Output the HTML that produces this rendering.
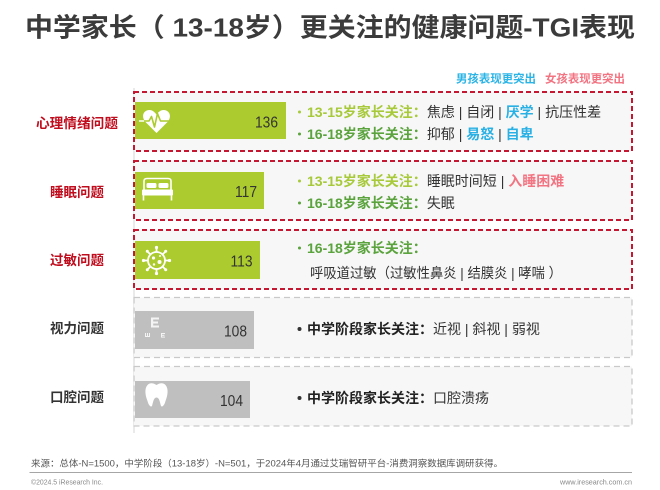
<!DOCTYPE html>
<html>
<head>
<meta charset="utf-8">
<style>
  html,body{margin:0;padding:0;background:#fff;}
  svg{display:block;}
  text{font-family:"Liberation Sans","Noto Sans CJK SC",sans-serif;}
</style>
</head>
<body>
<svg width="660" height="490" viewBox="0 0 660 490" xmlns="http://www.w3.org/2000/svg">
  <!-- Title -->
  <text x="25" y="36.5" font-size="26" font-weight="bold" fill="#3b3b3b" textLength="610" lengthAdjust="spacingAndGlyphs">中学家长（ 13-18岁）更关注的健康问题-TGI表现</text>

  <!-- Legend -->
  <text x="456" y="82.3" font-size="11.4" font-weight="bold" fill="#2cb4e6" textLength="80" lengthAdjust="spacingAndGlyphs">男孩表现更突出</text>
  <text x="545" y="82.3" font-size="11.4" font-weight="bold" fill="#f27482" textLength="80" lengthAdjust="spacingAndGlyphs">女孩表现更突出</text>

  <!-- axis line -->
  <line x1="134" y1="88" x2="134" y2="433" stroke="#d6d6d6" stroke-width="1"/>

  <!-- Boxes -->
  <g fill="#f7f7f7">
    <rect x="134" y="92" width="498" height="59" stroke="#c41732" stroke-width="2" stroke-dasharray="5 3"/>
    <rect x="134" y="161" width="498" height="59" stroke="#c41732" stroke-width="2" stroke-dasharray="5 3"/>
    <rect x="134" y="230" width="498" height="59" stroke="#c41732" stroke-width="2" stroke-dasharray="5 3"/>
    <rect x="134" y="297.5" width="498" height="60" stroke="#c9c9c9" stroke-width="1.3" stroke-dasharray="6 4"/>
    <rect x="134" y="366.5" width="498" height="59.5" stroke="#c9c9c9" stroke-width="1.3" stroke-dasharray="6 4"/>
  </g>

  <!-- Bars -->
  <rect x="135" y="102" width="151" height="37" fill="#abcb2e"/>
  <rect x="135" y="172" width="129" height="37" fill="#abcb2e"/>
  <rect x="135" y="241" width="125" height="38" fill="#abcb2e"/>
  <rect x="135" y="311" width="119" height="38" fill="#bfbfbf"/>
  <rect x="135" y="381" width="115" height="37" fill="#bfbfbf"/>

  <!-- Bar values -->
  <g font-size="16" fill="#333" text-anchor="end">
    <text x="278" y="127.5" textLength="23" lengthAdjust="spacingAndGlyphs">136</text>
    <text x="257" y="197" textLength="22" lengthAdjust="spacingAndGlyphs">117</text>
    <text x="252.5" y="266.5" textLength="22" lengthAdjust="spacingAndGlyphs">113</text>
    <text x="247" y="336.5" textLength="23" lengthAdjust="spacingAndGlyphs">108</text>
    <text x="243" y="406" textLength="23" lengthAdjust="spacingAndGlyphs">104</text>
  </g>

  <!-- Icon: heart -->
  <path d="M156.5,133 L145.5,122 C141,117 143,110 149.5,110 C152.5,110 154.5,112 156.5,114.5 C158.5,112 160.5,110 163.5,110 C170,110 172,117 167.5,122 Z" fill="#fff"/>
  <line x1="139" y1="121" x2="146" y2="121" stroke="#fff" stroke-width="1.5"/>
  <polyline points="144,121 149,121 151.5,116.5 154.5,127 157.5,113.5 160.5,121 170,121" fill="none" stroke="#abcb2e" stroke-width="1.6" stroke-linejoin="round"/>

  <!-- Icon: bed -->
  <path d="M144,190 L144,181 Q144,178.5 147,178.5 L168,178.5 Q171,178.5 171,181 L171,190" fill="none" stroke="#fff" stroke-width="1.6"/>
  <rect x="146.5" y="183" width="10" height="5" rx="1.5" fill="#fff"/>
  <rect x="158.5" y="183" width="10" height="5" rx="1.5" fill="#fff"/>
  <rect x="142" y="189.5" width="31" height="6" rx="1" fill="#fff"/>
  <line x1="143.5" y1="195" x2="143.5" y2="200.5" stroke="#fff" stroke-width="1.6"/>
  <line x1="171.5" y1="195" x2="171.5" y2="200.5" stroke="#fff" stroke-width="1.6"/>

  <!-- Icon: virus -->
  <g stroke="#fff" stroke-width="1.8" fill="none">
    <circle cx="156.5" cy="260.5" r="8.5"/>
    <line x1="156.5" y1="252" x2="156.5" y2="248"/>
    <line x1="156.5" y1="269" x2="156.5" y2="273"/>
    <line x1="148" y1="260.5" x2="144" y2="260.5"/>
    <line x1="165" y1="260.5" x2="169" y2="260.5"/>
    <line x1="150.5" y1="254.5" x2="147.7" y2="251.7"/>
    <line x1="162.5" y1="254.5" x2="165.3" y2="251.7"/>
    <line x1="150.5" y1="266.5" x2="147.7" y2="269.3"/>
    <line x1="162.5" y1="266.5" x2="165.3" y2="269.3"/>
  </g>
  <g fill="#fff">
    <circle cx="156.5" cy="247.5" r="1.6"/><circle cx="156.5" cy="273.5" r="1.6"/>
    <circle cx="143.5" cy="260.5" r="1.6"/><circle cx="169.5" cy="260.5" r="1.6"/>
    <circle cx="147.3" cy="251.3" r="1.5"/><circle cx="165.7" cy="251.3" r="1.5"/>
    <circle cx="147.3" cy="269.7" r="1.5"/><circle cx="165.7" cy="269.7" r="1.5"/>
    <circle cx="153.5" cy="258" r="1.6"/><circle cx="159.5" cy="262" r="2"/><circle cx="154" cy="264.5" r="1.2"/><circle cx="160" cy="256" r="1"/>
  </g>

  <!-- Icon: eye chart -->
  <g fill="#f4f4f4">
    <rect x="151" y="317.5" width="2.2" height="10"/>
    <rect x="151" y="317.5" width="8" height="2"/>
    <rect x="151" y="321.5" width="7" height="2"/>
    <rect x="151" y="325.5" width="8" height="2"/>
    <!-- small ш -->
    <rect x="145" y="333" width="1" height="4"/>
    <rect x="147" y="333" width="1" height="4"/>
    <rect x="149" y="333" width="1" height="4"/>
    <rect x="145" y="336" width="5" height="1"/>
    <!-- small E -->
    <rect x="161" y="333" width="1" height="4.5"/>
    <rect x="161" y="333" width="4" height="1"/>
    <rect x="161" y="334.8" width="3.5" height="1"/>
    <rect x="161" y="336.6" width="4" height="1"/>
  </g>

  <!-- Icon: tooth -->
  <path d="M147.5,385 C150.5,382 154,383.5 156.5,385 C159,383.5 162.5,382 165.5,385 C169,389 167.5,396 165.5,401 C164.5,405 162.5,407.5 161,406 C160,403 159.5,397.5 156.5,397.5 C153.5,397.5 153,403 152,406 C150.5,407.5 148.5,405 147.5,401 C145.5,396 144,389 147.5,385 Z" fill="#fff"/>

  <!-- Left labels -->
  <g font-size="13.7" font-weight="bold" text-anchor="middle">
    <text x="77" y="128.2" fill="#c00d1e" textLength="82" lengthAdjust="spacingAndGlyphs">心理情绪问题</text>
    <text x="77" y="197.2" fill="#c00d1e" textLength="54" lengthAdjust="spacingAndGlyphs">睡眠问题</text>
    <text x="77" y="265.2" fill="#c00d1e" textLength="54" lengthAdjust="spacingAndGlyphs">过敏问题</text>
    <text x="77" y="333.2" fill="#333" textLength="54" lengthAdjust="spacingAndGlyphs">视力问题</text>
    <text x="77" y="402.2" fill="#333" textLength="54" lengthAdjust="spacingAndGlyphs">口腔问题</text>
  </g>

  <!-- Bullets -->
  <circle cx="299.5" cy="112" r="1.5" fill="#a7c93a"/>
  <circle cx="299.5" cy="134" r="1.5" fill="#5aa33d"/>
  <circle cx="299.5" cy="181" r="1.5" fill="#a7c93a"/>
  <circle cx="299.5" cy="203" r="1.5" fill="#5aa33d"/>
  <circle cx="299.5" cy="248" r="1.5" fill="#5aa33d"/>
  <circle cx="299.5" cy="329" r="2" fill="#333"/>
  <circle cx="299.5" cy="398" r="2" fill="#333"/>

  <!-- Right text -->
  <g font-size="14" fill="#333">
    <text x="307" y="117"><tspan fill="#a7c93a" font-weight="bold">13-15岁家长关注：</tspan>焦虑 | 自闭 | <tspan fill="#29b0e4" font-weight="bold">厌学</tspan> | 抗压性差</text>
    <text x="307" y="139"><tspan fill="#5aa33d" font-weight="bold">16-18岁家长关注：</tspan>抑郁 | <tspan fill="#29b0e4" font-weight="bold">易怒</tspan> | <tspan fill="#29b0e4" font-weight="bold">自卑</tspan></text>
    <text x="307" y="186"><tspan fill="#a7c93a" font-weight="bold">13-15岁家长关注：</tspan>睡眠时间短 | <tspan fill="#f27482" font-weight="bold">入睡困难</tspan></text>
    <text x="307" y="208"><tspan fill="#5aa33d" font-weight="bold">16-18岁家长关注：</tspan>失眠</text>
    <text x="307" y="253"><tspan fill="#5aa33d" font-weight="bold">16-18岁家长关注：</tspan></text>
    <text x="310" y="278" textLength="252" lengthAdjust="spacingAndGlyphs">呼吸道过敏（过敏性鼻炎 | 结膜炎 | 哮喘 ）</text>
    <text x="307" y="334"><tspan fill="#222" font-weight="bold">中学阶段家长关注：</tspan>近视 | 斜视 | 弱视</text>
    <text x="307" y="403"><tspan fill="#222" font-weight="bold">中学阶段家长关注：</tspan>口腔溃疡</text>
  </g>

  <!-- Footer -->
  <text x="31" y="466.5" font-size="9.2" fill="#555" textLength="472" lengthAdjust="spacingAndGlyphs">来源：总体-N=1500，中学阶段（13-18岁）-N=501，于2024年4月通过艾瑞智研平台-消费洞察数据库调研获得。</text>
  <line x1="29.5" y1="472.5" x2="632" y2="472.5" stroke="#a6a6a6" stroke-width="1"/>
  <text x="31" y="484.5" font-size="7.5" fill="#888" textLength="72" lengthAdjust="spacingAndGlyphs">©2024.5 iResearch Inc.</text>
  <text x="632" y="484.5" font-size="7.5" fill="#888" text-anchor="end" textLength="72" lengthAdjust="spacingAndGlyphs">www.iresearch.com.cn</text>
</svg>
</body>
</html>
